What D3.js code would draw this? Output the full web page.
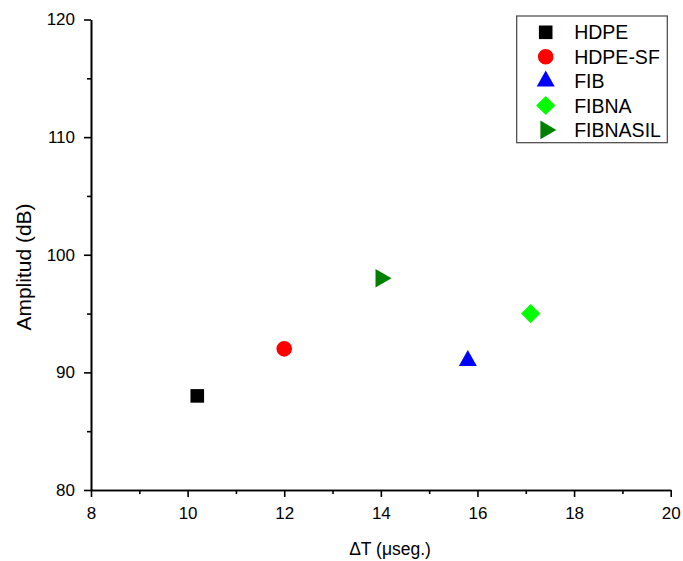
<!DOCTYPE html>
<html>
<head>
<meta charset="utf-8">
<script src="https://cdn.jsdelivr.net/npm/d3@7"></script>
<style>
  html, body { margin: 0; padding: 0; background: #fff; }
  svg { display: block; font-family: Arial, "Liberation Sans", sans-serif; }
</style>
</head>
<body>
<svg id="chart" width="683" height="561"></svg>
<script>
// Samples: time delay vs. signal amplitude
const samples   = ["HDPE", "HDPE-SF", "FIB", "FIBNA", "FIBNASIL"];
const deltaT    = [10.2, 12, 15.8, 17.1, 14];
const amplitude = [88, 92, 91, 95, 98];
const colors    = ["#000000", "#ff0000", "#0000ff", "#00ff00", "#008000"];
const shapes    = ["square", "circle", "triangleUp", "diamond", "triangleRight"];

const xMajor = [8, 10, 12, 14, 16, 18, 20];
const xMinor = [9, 11, 13, 15, 17, 19];
const yMajor = [80, 90, 100, 110, 120];
const yMinor = [85, 95, 105, 115];

const svg = d3.select("#chart");

const x = d3.scaleLinear().domain([8, 20]).range([91, 670.7]);
const y = d3.scaleLinear().domain([80, 120]).range([490, 19.5]);

// symbol path generators centred on (0,0)
function symbolPath(shape) {
  switch (shape) {
    case "square": { const s = 6.8; return `M${-s},${-s}H${s}V${s}H${-s}Z`; }
    case "circle": { const r = 7.8; return `M${r},0A${r},${r} 0 1,1 ${-r},0A${r},${r} 0 1,1 ${r},0Z`; }
    case "triangleUp": { const w = 18, h = 16; return `M0,${-2*h/3}L${w/2},${h/3}L${-w/2},${h/3}Z`; }
    case "diamond": { const d = 9.6; return `M0,${-d}L${d},0L0,${d}L${-d},0Z`; }
    case "triangleRight": { const w = 16, h = 18.7; return `M${2*w/3},0L${-w/3},${h/2}L${-w/3},${-h/2}Z`; }
  }
}

// axes
const axisStyle = g => {
  g.selectAll("path.domain").attr("stroke", "#000").attr("stroke-width", 1.6);
  g.selectAll(".tick line").attr("stroke", "#000").attr("stroke-width", 1.6);
  g.selectAll(".tick text").attr("fill", "#000").attr("font-size", "17px")
    .attr("font-family", "Arial, 'Liberation Sans', sans-serif");
};

svg.append("g").attr("transform", "translate(0,490)")
  .call(d3.axisBottom(x).tickValues(xMinor).tickSize(4).tickSizeOuter(0).tickFormat(""))
  .call(axisStyle);
svg.append("g").attr("transform", "translate(0,490)")
  .call(d3.axisBottom(x).tickValues(xMajor).tickSize(7).tickSizeOuter(0).tickPadding(10).tickFormat(d3.format("d")))
  .call(axisStyle);

svg.append("g").attr("transform", "translate(91,0)")
  .call(d3.axisLeft(y).tickValues(yMinor).tickSize(4).tickSizeOuter(0).tickFormat(""))
  .call(axisStyle);
svg.append("g").attr("transform", "translate(91,0)")
  .call(d3.axisLeft(y).tickValues(yMajor).tickSize(7).tickSizeOuter(0).tickPadding(9).tickFormat(d3.format("d")))
  .call(axisStyle);

// axis titles
svg.append("text")
  .attr("x", 390).attr("y", 555)
  .attr("text-anchor", "middle").attr("font-size", "17.5px").attr("fill", "#000")
  .text("ΔT (μseg.)");

svg.append("text")
  .attr("transform", "translate(31,267) rotate(-90)")
  .attr("text-anchor", "middle").attr("font-size", "21px").attr("fill", "#000")
  .text("Amplitud (dB)");

// data points
const points = samples.map((s, i) => ({ name: s, t: deltaT[i], a: amplitude[i], color: colors[i], shape: shapes[i] }));

svg.append("g").selectAll("path")
  .data(points)
  .join("path")
  .attr("transform", d => `translate(${x(d.t)},${y(d.a)})`)
  .attr("d", d => symbolPath(d.shape))
  .attr("fill", d => d.color);

// legend
const legend = svg.append("g");
legend.append("rect")
  .attr("x", 516.7).attr("y", 16).attr("width", 150.6).attr("height", 126.7)
  .attr("fill", "#fff").attr("stroke", "#444").attr("stroke-width", 1.2);

const rows = legend.selectAll("g.row")
  .data(points)
  .join("g")
  .attr("class", "row")
  .attr("transform", (d, i) => `translate(545.7,${32.3 + i * 24.4})`);

rows.append("path")
  .attr("d", d => symbolPath(d.shape))
  .attr("fill", d => d.color);

rows.append("text")
  .attr("x", 28.5).attr("y", 7)
  .attr("font-size", "19.5px").attr("fill", "#000")
  .text(d => d.name);
</script>
</body>
</html>
